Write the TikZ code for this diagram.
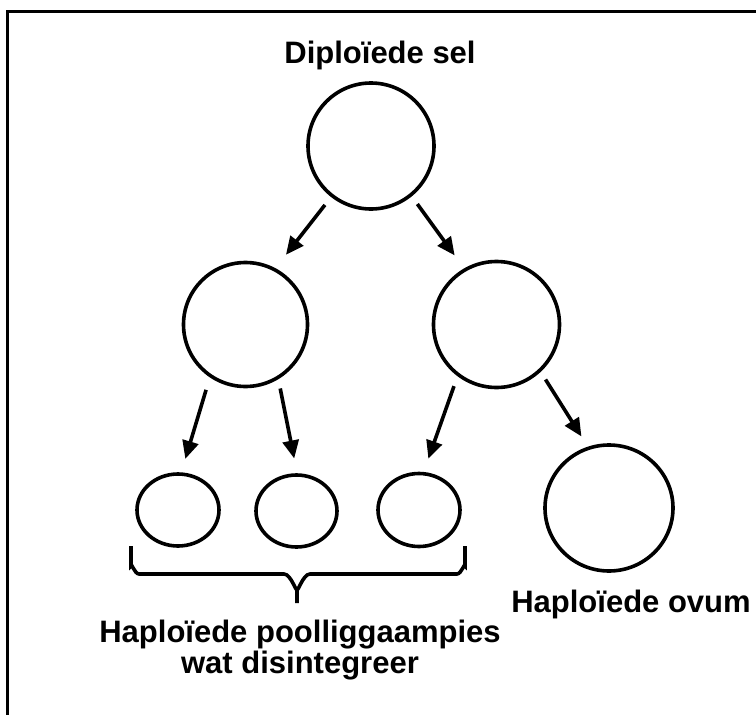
\documentclass[tikz,border=0pt]{standalone}
\usepackage{fontspec}
\setmainfont{Liberation Sans}
\usetikzlibrary{arrows.meta,shapes.geometric}
\begin{document}
\begin{tikzpicture}[x=1pt,y=-1pt,
  cell/.style={draw, line width=3.6pt, circle, inner sep=0pt, minimum size=#1},
  oval/.style={draw, line width=3.6pt, ellipse, inner sep=0pt},
  arr/.style={line width=3.6pt, -{Triangle[length=18pt,width=16pt]}},
  lbl/.style={font=\fontsize{31}{32}\selectfont\bfseries, inner sep=0pt}]
\useasboundingbox (0,0) rectangle (756,715);
% frame (right and bottom sides lie outside the picture)
\draw[line width=3.6pt] (7.5,760) -- (7.5,11.5) -- (800,11.5);
% cells
\node[cell=126pt] (top) at (371,146) {};
\node[cell=124pt] (midL) at (245.5,324.5) {};
\node[cell=126pt] (midR) at (496.5,324.5) {};
\node[oval, minimum width=82pt, minimum height=72pt] (s1) at (178,510) {};
\node[oval, minimum width=81pt, minimum height=72pt] (s2) at (296.5,511) {};
\node[oval, minimum width=82pt, minimum height=73pt] (s3) at (419,510) {};
\node[oval, minimum width=128pt, minimum height=126pt] (ovum) at (609,508) {};
% labels
\node[lbl, anchor=base] (tl) at (380,63) {Diploïede sel};
\node[lbl, anchor=base] (ol) at (631,612) {Haploïede ovum};
\node[lbl, anchor=base, align=center] (pl) at (300,673) {Haploïede poolliggaampies\\[-1pt]wat disintegreer};
% arrows
\draw[arr, shorten <=10pt, shorten >=17pt] (top.232) -- (midL.62);
\draw[arr, shorten <=9.5pt, shorten >=16pt] (top.309) -- (midR.120);
\draw[arr, shorten <=13pt, shorten >=14pt] (midL.236) -- (s1.85);
\draw[arr, shorten <=9.5pt, shorten >=15pt] (midL.301) -- (s2.89);
\draw[arr, shorten <=10.5pt, shorten >=14pt] (midR.233) -- (s3.83);
\draw[arr, shorten <=9pt, shorten >=12pt] (midR.313) -- (ovum.109);
% brace
\draw[line width=3.6pt] (131,546) -- (131,566) to[out=90,in=180] (139,574) -- (284,574) to[out=0,in=-90] (297,588) -- (297,603);
\draw[line width=3.6pt] (465,546) -- (465,566) to[out=90,in=0] (457,574) -- (310,574) to[out=180,in=-90] (297,588);
\end{tikzpicture}
\end{document}
